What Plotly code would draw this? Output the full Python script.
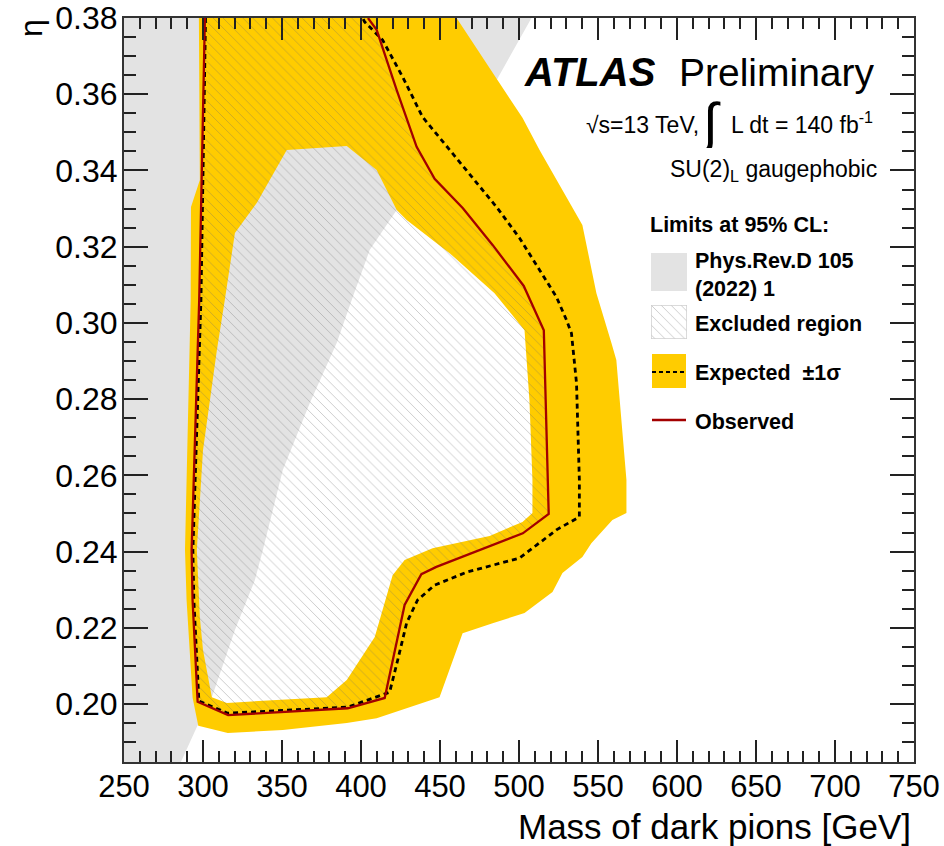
import plotly.graph_objects as go

# ---------------- data (mass of dark pions [GeV], eta) ----------------
# Previous result (Phys.Rev.D 105 (2022) 1) excluded region
prev_mass = [250, 286.0, 296.1, 305.6, 320.2, 332.8, 337.9, 350.5, 367.6, 384.6,
             394.8, 405.5, 422.6, 485.8, 507.9, 250]
prev_eta = [0.1848, 0.1848, 0.1940, 0.2018, 0.2194, 0.2325, 0.2404, 0.2614, 0.2790, 0.2947,
            0.3068, 0.3191, 0.3296, 0.3637, 0.380, 0.380]

# Expected +-1 sigma band: outer contour and inner contour
band_outer_mass = [297.4, 298.0, 292.4, 292.2, 288.6, 289.6, 293.4, 297.0, 315.7, 350.5,
                   391.0, 409.9, 449.7, 464.3, 483.3, 503.5, 521.2, 527.5, 540.1, 545.8,
                   559.1, 568.0, 568.0, 561.6, 558.5, 549.0, 540.1, 513.0, 502.2, 460.5]
band_outer_eta = [0.380, 0.3375, 0.3304, 0.3060, 0.2404, 0.2273, 0.2017, 0.1943, 0.1924, 0.1932,
                  0.1950, 0.1963, 0.2018, 0.2186, 0.2212, 0.2239, 0.2294, 0.2344, 0.2386, 0.2422,
                  0.2483, 0.2501, 0.2588, 0.2903, 0.2947, 0.3078, 0.3257, 0.3454, 0.3538, 0.380]
band_inner_mass = [353.0, 391.0, 409.9, 422.6, 428.9, 456.1, 484.5, 503.5, 506.6, 508.5,
                   508.5, 502.2, 481.4, 445.3, 427.6, 420.0, 408.7, 391.0, 378.3, 315.1,
                   305.6, 300.0, 298.0, 296.1, 300.0, 308.8, 313.8, 320.2, 334.1]
band_inner_eta = [0.3454, 0.3464, 0.3401, 0.3296, 0.3270, 0.3183, 0.3078, 0.2981, 0.2798, 0.2588,
                  0.2501, 0.2478, 0.2441, 0.2409, 0.2378, 0.2338, 0.2176, 0.2063, 0.2018, 0.2003,
                  0.2018, 0.2142, 0.2228, 0.2404, 0.2666, 0.2929, 0.3060, 0.3236, 0.3315]

# Expected limit contour
exp_mass = [301.6, 298.7, 293.6, 294.2, 297.4, 315.7, 391.6, 418.1, 423.2, 428.9,
            435.8, 446.6, 466.8, 500.3, 511.1, 523.7, 538.2, 538.2, 536.4, 533.2,
            530.0, 523.7, 513.0, 500.3, 485.8, 473.1, 456.1, 439.0, 426.4, 413.7,
            402.3, 401.1]
exp_eta = [0.380, 0.306, 0.2404, 0.2273, 0.2008, 0.1976, 0.1992, 0.2031, 0.2115, 0.2213,
           0.2273, 0.2312, 0.2346, 0.2383, 0.2417, 0.2457, 0.2491, 0.2588, 0.2842, 0.2973,
           0.3008, 0.3068, 0.3139, 0.3223, 0.3304, 0.3367, 0.3454, 0.3540, 0.3645, 0.3742,
           0.3790, 0.380]

# Observed limit contour
obs_mass = [301.2, 297.6, 292.8, 293.4, 296.6, 315.9, 391.6, 415.0, 427.6, 438.2,
            447.7, 502.4, 518.8, 518.2, 515.7, 503.0, 483.4, 464.5, 446.6, 435.2,
            422.6, 409.9, 404.4]
obs_eta = [0.380, 0.306, 0.2404, 0.2273, 0.2006, 0.1971, 0.1989, 0.2016, 0.2260, 0.2341,
           0.2360, 0.2448, 0.2499, 0.2588, 0.2981, 0.3097, 0.3204, 0.3301, 0.3378, 0.3462,
           0.3611, 0.3769, 0.380]

x_range = [250, 750]
y_range = [0.1848, 0.38]

# ---------------- styles ----------------
GRAY = "#e3e3e3"
YELLOW = "#ffcc00"
RED = "#a30000"
FONT = "Liberation Sans, Arial, Helvetica, sans-serif"
HATCH = dict(shape="\\", fgcolor="rgba(105,105,105,0.34)", bgcolor="rgba(0,0,0,0)",
             size=7, solidity=0.14, fillmode="replace")

W, H = 944, 846
L, R, T, B = 124, 914, 18, 762


def px(x):
    return (x - L) / (R - L)


def py(y):
    return (B - y) / (B - T)


fig = go.Figure()

# previous result (gray)
fig.add_trace(go.Scatter(x=prev_mass, y=prev_eta, fill="toself", fillcolor=GRAY,
                         mode="lines", line=dict(width=0), hoverinfo="skip", showlegend=False))

# yellow band = outer ring with inner hole (opposite winding)
band_x = band_outer_mass + [band_outer_mass[0], None] + band_inner_mass + [band_inner_mass[0]]
band_y = band_outer_eta + [band_outer_eta[0], None] + band_inner_eta + [band_inner_eta[0]]
fig.add_trace(go.Scatter(x=band_x, y=band_y, fill="toself", fillcolor=YELLOW,
                         mode="lines", line=dict(width=0), hoverinfo="skip", showlegend=False))

# excluded region hatch (inside observed contour)
fig.add_trace(go.Scatter(x=obs_mass, y=obs_eta, fill="toself", fillcolor="rgba(0,0,0,0)",
                         fillpattern=HATCH, mode="lines", line=dict(width=0),
                         hoverinfo="skip", showlegend=False))

# expected (dashed)
fig.add_trace(go.Scatter(x=exp_mass, y=exp_eta, mode="lines",
                         line=dict(color="black", width=2.8, dash="5px,4px"),
                         hoverinfo="skip", showlegend=False))

# observed (red)
fig.add_trace(go.Scatter(x=obs_mass, y=obs_eta, mode="lines",
                         line=dict(color=RED, width=2.3),
                         hoverinfo="skip", showlegend=False))

# legend hatch box via inset axes
bx0, bx1, by0, by1 = 651, 687, 305, 339
fig.add_trace(go.Scatter(x=[0, 1, 1, 0, 0], y=[0, 0, 1, 1, 0], fill="toself",
                         fillcolor="rgba(0,0,0,0)", fillpattern=HATCH,
                         mode="lines", line=dict(color="#d0d0d0", width=1.5),
                         xaxis="x2", yaxis="y2", hoverinfo="skip", showlegend=False))

axis_common = dict(
    showline=True, linecolor="#333333", linewidth=2, mirror="allticks",
    ticks="inside", tickcolor="#222222", tickwidth=1.5, showgrid=False, zeroline=False,
    automargin=False,
)

fig.update_layout(
    width=W, height=H,
    margin=dict(l=L, r=W - R, t=T, b=H - B, autoexpand=False),
    paper_bgcolor="white", plot_bgcolor="white",
    font=dict(family=FONT, color="black"),
    xaxis=dict(range=x_range, tick0=250, dtick=50, ticklen=22, ticklabelstandoff=-4,
               tickfont=dict(family=FONT, size=31, color="black"),
               minor=dict(dtick=10, ticklen=11, ticks="inside", tickcolor="#222222", tickwidth=1.5),
               **axis_common),
    yaxis=dict(range=y_range, tick0=0.2, dtick=0.02, tickformat=".2f", ticklen=24,
               ticklabelstandoff=-2,
               tickfont=dict(family=FONT, size=32, color="black"),
               minor=dict(tick0=0.2, dtick=0.005, ticklen=12, ticks="inside", tickcolor="#222222", tickwidth=1.5),
               **axis_common),
    xaxis2=dict(domain=[px(bx0), px(bx1)], range=[0, 1], visible=False, anchor="y2", fixedrange=True),
    yaxis2=dict(domain=[py(by1), py(by0)], range=[0, 1], visible=False, anchor="x2", fixedrange=True),
)

shapes = []
# gray legend box
shapes.append(dict(type="rect", xref="paper", yref="paper", x0=px(651), x1=px(687),
                   y0=py(291), y1=py(253), fillcolor=GRAY, line=dict(width=0)))
# yellow legend box with dashed line
shapes.append(dict(type="rect", xref="paper", yref="paper", x0=px(652), x1=px(686),
                   y0=py(388), y1=py(354), fillcolor=YELLOW, line=dict(width=0)))
shapes.append(dict(type="line", xref="paper", yref="paper", x0=px(652), x1=px(686),
                   y0=py(372), y1=py(372), line=dict(color="black", width=2, dash="4px,3px")))
# red legend line
shapes.append(dict(type="line", xref="paper", yref="paper", x0=px(652), x1=px(686),
                   y0=py(420), y1=py(420), line=dict(color=RED, width=2.4)))
fig.update_layout(shapes=shapes)

ann = []


def add_text(text, x, y, size, xanchor="left", bold=False, italic=False, angle=0, height=None):
    t = text
    if bold:
        t = "<b>" + t + "</b>"
    if italic:
        t = "<i>" + t + "</i>"
    a = dict(text=t, x=px(x), y=py(y), xref="paper", yref="paper",
             xanchor=xanchor, yanchor="middle", showarrow=False, textangle=angle,
             font=dict(family=FONT, size=size, color="black"))
    if height is not None:
        a["height"] = height
        a["valign"] = "middle"
    ann.append(a)


add_text("ATLAS", 522, 72, 40, bold=True, italic=True, height=44)
add_text("Preliminary", 877, 72, 39, xanchor="right", height=44)
add_text("√s=13 TeV,", 701, 125, 23, xanchor="right")
add_text("∫", 710, 122, 54, xanchor="center", height=52)
add_text("L dt = 140 fb<sup>-1</sup>", 875, 123, 23, xanchor="right")
add_text("SU(2)<sub>L</sub> gaugephobic", 879, 170, 23, xanchor="right")
add_text("Limits at 95% CL:", 648, 225, 21.5, bold=True)
add_text("Phys.Rev.D 105", 693, 261, 21.5, bold=True)
add_text("(2022) 1", 693, 289, 21.5, bold=True)
add_text("Excluded region", 693, 324, 21.5, bold=True)
add_text("Expected  ±1σ", 693, 373, 21.5, bold=True)
add_text("Observed", 693, 422, 21.5, bold=True)
add_text("Mass of dark pions [GeV]", 913, 826, 35, xanchor="right")
add_text("η", 31, 28, 32, xanchor="center", angle=-90)
fig.update_layout(annotations=ann)

fig.write_html("out.html", config={"displayModeBar": False},
               post_script="document.body.style.margin='0px';document.body.style.padding='0px';")
